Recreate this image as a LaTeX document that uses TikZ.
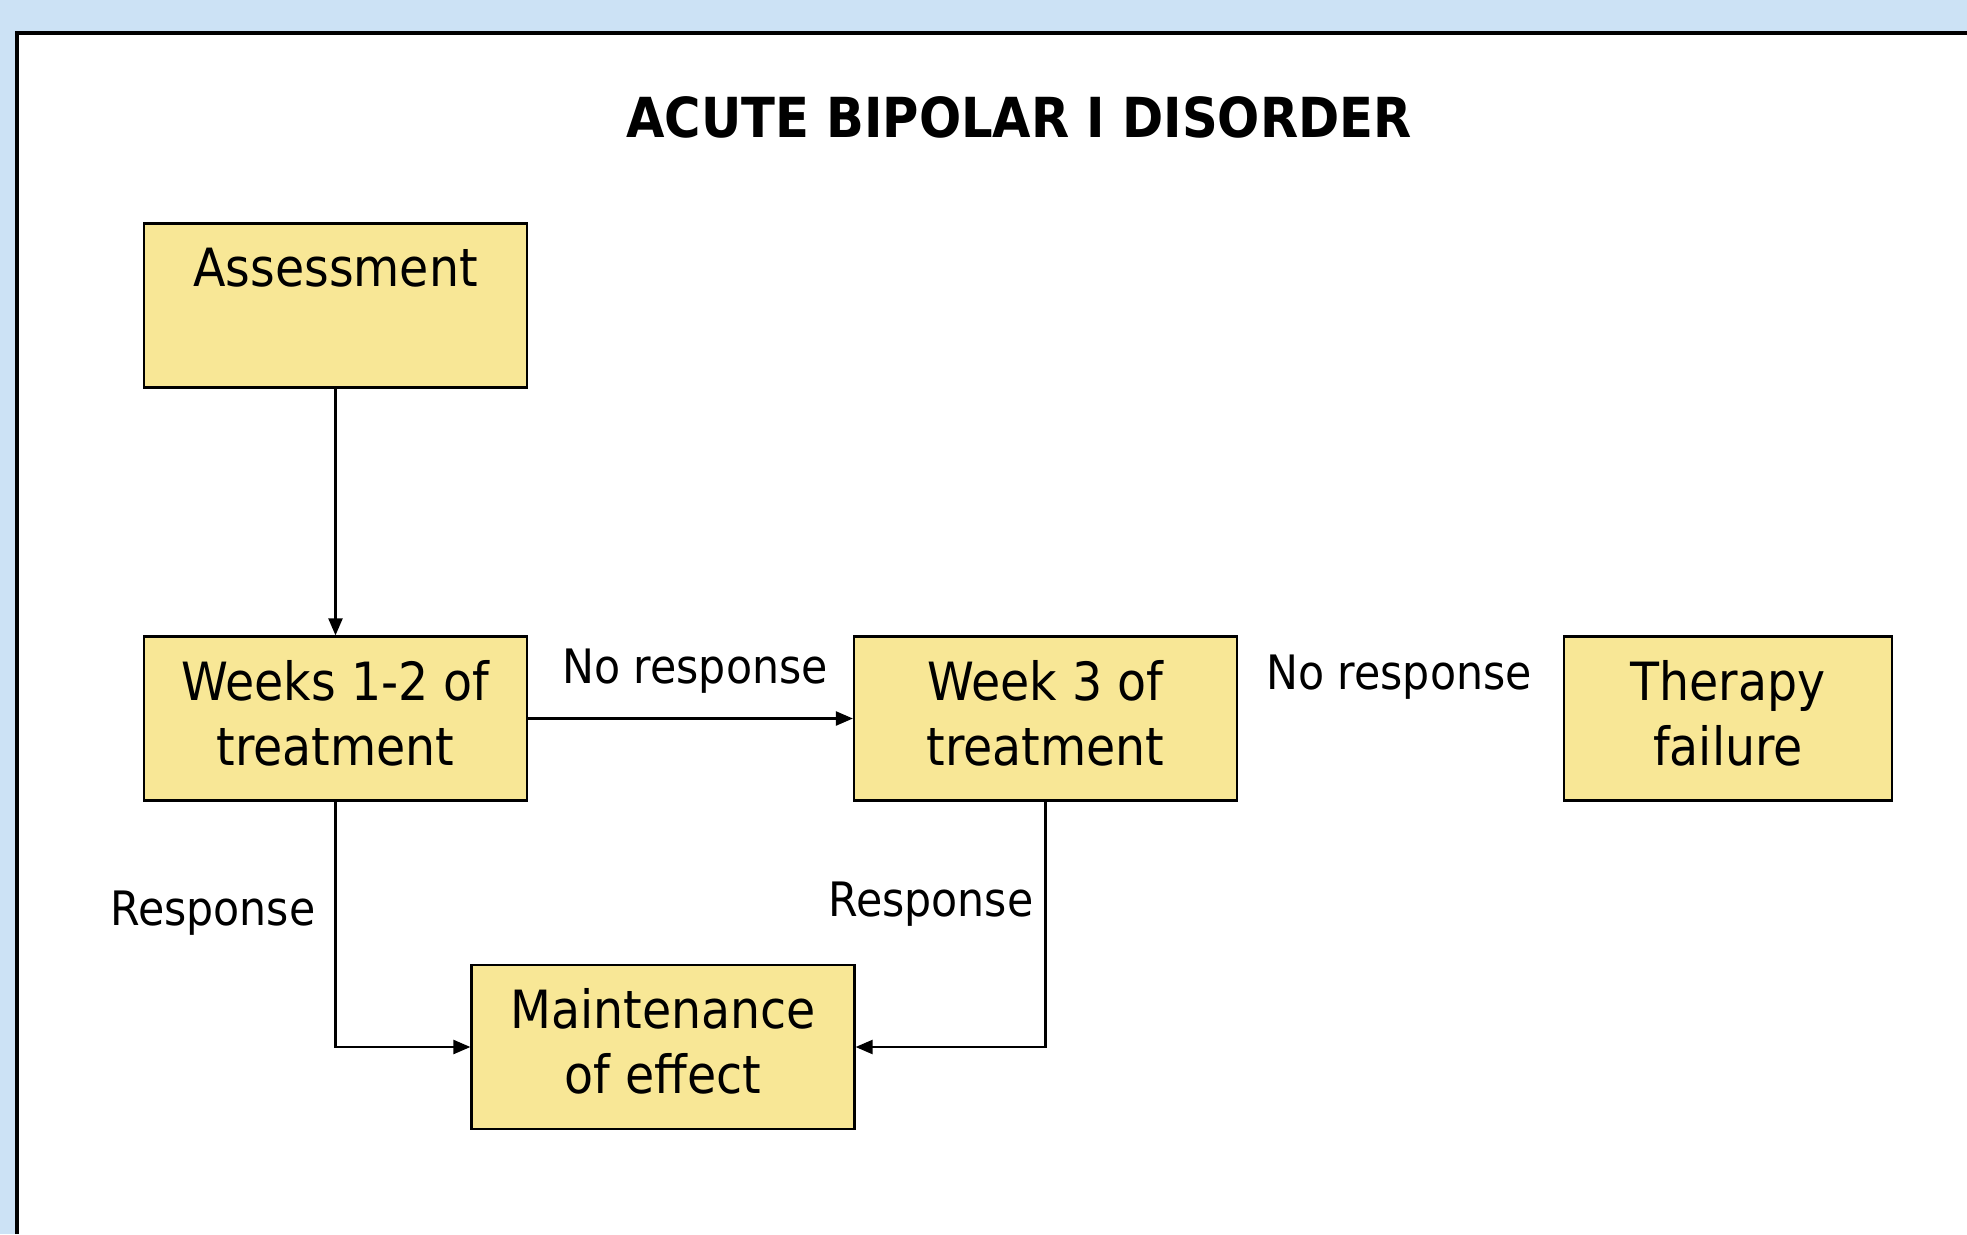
\documentclass[tikz,border=0pt]{standalone}
\usepackage{fontspec}
\setmainfont{DejaVu Sans Condensed}
\usetikzlibrary{arrows.meta}
\definecolor{slideblue}{HTML}{CCE2F5}
\definecolor{boxyellow}{HTML}{F8E796}
\tikzset{
  box/.style={draw, fill=boxyellow, line width=1.3pt, minimum width=7.66cm,
    minimum height=3.28cm, align=center, inner sep=0pt, text depth=0.24cm,
    font=\fontsize{30}{37}\selectfont},
  lbl/.style={font=\fontsize{27}{32}\selectfont},
  flow/.style={line width=1.3pt, -{Triangle[length=0.34cm,width=0.28cm]}}
}
\begin{document}
\begin{tikzpicture}[x=0.02cm, y=-0.02cm]
  \useasboundingbox (0,0) rectangle (1967,1234);
  \fill[slideblue] (0,0) rectangle (1967,1234);
  \fill[white] (17,33) rectangle (1967,1234);
  \draw[line width=1.8pt] (17,1234) -- (17,33) -- (1967,33);

  \node[font=\bfseries\fontsize{31.4}{38}\selectfont] (title) at (1019,117) {ACUTE BIPOLAR I DISORDER};

  \node[box] (assess) at (335.5,305.5) {Assessment\\\mbox{}};
  \node[box] (weeks) at (335.5,718.5) {Weeks 1-2 of\\treatment};
  \node[box] (week3) at (1045.5,718.5) {Week 3 of\\treatment};
  \node[box, minimum width=6.56cm] (failure) at (1728,718.5) {Therapy\\failure};
  \node[box] (maint) at (663,1047) {Maintenance\\of effect};

  \node[lbl] (noresp-a) at (695,671) {No response};
  \node[lbl] (noresp-b) at (1399,677) {No response};
  \node[lbl] (resp-a) at (213,913) {Response};
  \node[lbl] (resp-b) at (931,904) {Response};

  \draw[flow] (assess) -- (weeks);
  \draw[flow] (weeks) -- (week3);
  \draw[flow] (weeks) |- (maint);
  \draw[flow] (week3) |- (maint);
\end{tikzpicture}
\end{document}
